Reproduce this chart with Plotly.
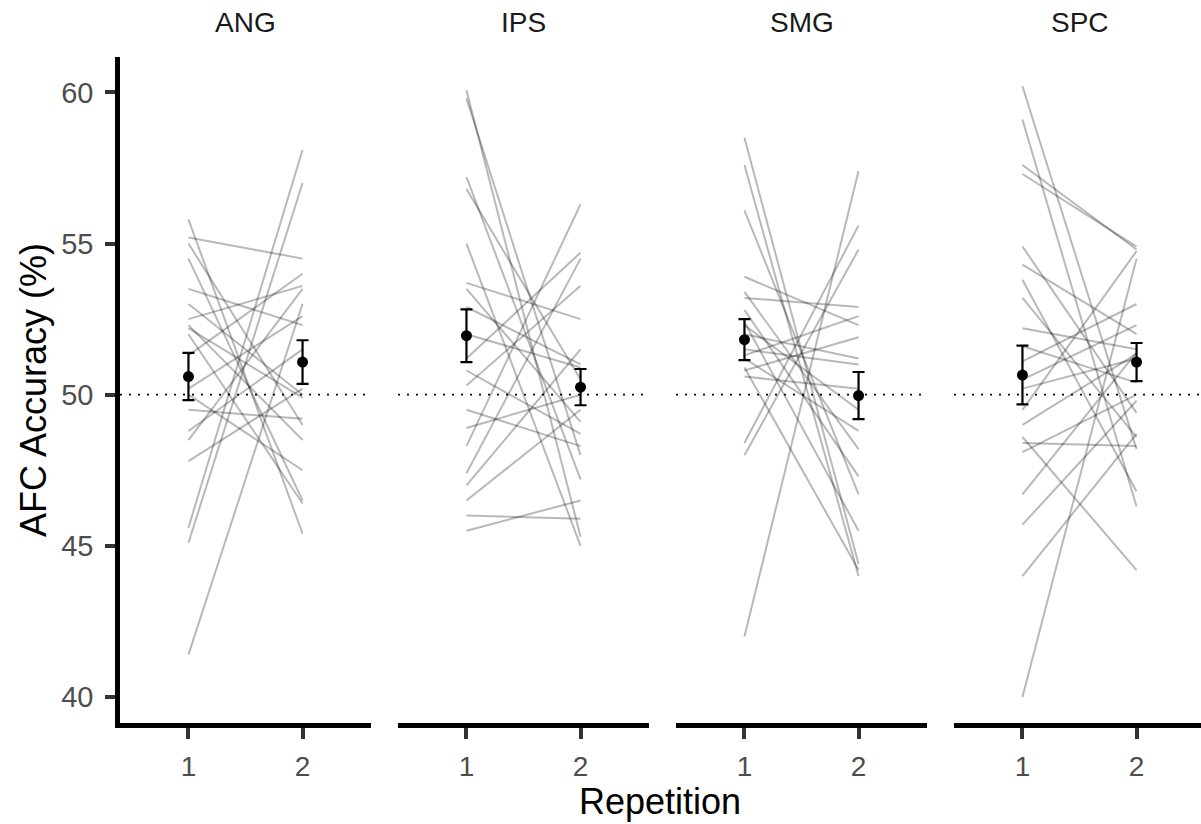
import plotly.graph_objects as go

regions = ["ANG", "IPS", "SMG", "SPC"]
reps = [1, 2]

ang_rep1 = [55.8, 55.2, 55.0, 54.5, 53.5, 53.0, 52.5, 52.3, 52.2, 51.3, 50.2, 50.0, 48.8, 48.5, 47.8, 45.6, 45.1, 41.4, 49.5, 52.0]
ang_rep2 = [45.4, 54.5, 49.0, 46.5, 52.3, 50.0, 53.6, 48.5, 49.9, 54.0, 52.6, 47.5, 51.5, 53.5, 50.2, 58.1, 57.0, 53.0, 49.2, 46.4]

ips_rep1 = [60.07, 59.8, 57.2, 56.8, 55.0, 53.7, 53.5, 52.9, 51.2, 50.8, 50.3, 48.9, 48.3, 47.4, 47.0, 46.5, 46.0, 45.5, 52.0, 49.5]
ips_rep2 = [45.3, 48.0, 47.2, 50.5, 45.0, 52.5, 49.1, 51.0, 54.7, 48.7, 53.6, 50.0, 56.3, 54.5, 51.5, 49.5, 45.9, 46.5, 50.9, 48.3]

smg_rep1 = [58.5, 57.6, 56.1, 53.9, 53.4, 53.2, 52.4, 52.0, 51.3, 51.2, 50.8, 48.4, 48.0, 42.0, 52.8, 50.9, 51.5, 52.3, 50.6]
smg_rep2 = [44.4, 44.0, 46.7, 52.3, 48.2, 52.9, 45.5, 51.2, 52.6, 48.8, 51.9, 55.6, 54.8, 57.4, 47.3, 44.2, 51.0, 49.5, 50.2]

spc_rep1 = [60.2, 59.1, 57.6, 57.3, 54.9, 54.3, 53.8, 53.2, 52.2, 51.6, 51.1, 50.5, 50.2, 49.5, 49.0, 48.4, 48.1, 46.7, 45.7, 44.0, 40.0, 48.6]
spc_rep2 = [48.2, 46.3, 54.8, 54.9, 49.4, 52.0, 46.8, 48.6, 51.5, 50.4, 53.0, 52.3, 51.2, 54.75, 51.35, 48.3, 50.0, 51.4, 49.8, 48.7, 54.5, 44.2]

mean_rep1 = [50.6, 51.95, 51.82, 50.65]
mean_rep2 = [51.08, 50.25, 49.97, 51.08]
se_rep1 = [0.78, 0.87, 0.68, 0.97]
se_rep2 = [0.72, 0.6, 0.78, 0.63]

y_ticks = [40, 45, 50, 55, 60]

subject_data = [(ang_rep1, ang_rep2), (ips_rep1, ips_rep2), (smg_rep1, smg_rep2), (spc_rep1, spc_rep2)]

W, H = 1201, 824
ml, mr, mt, mb = 120, 0, 57, 101
pw = W - ml - mr
panel_w = 251
gap = 27
xr = [0.4, 2.6]
px_per_unit = panel_w / (xr[1] - xr[0])

domains, ranges = [], []
for i in range(4):
    a_px = i * (panel_w + gap)
    b_px = a_px + panel_w
    if b_px > pw:
        ranges.append([xr[0], xr[0] + (pw - a_px) / px_per_unit])
        b_px = pw
    else:
        ranges.append(xr)
    domains.append([a_px / pw, b_px / pw])

fig = go.Figure()
yrange = [39.14, 61.17]
font_fam = "Liberation Sans, Arial, Helvetica, sans-serif"

for i, (r1, r2) in enumerate(subject_data):
    xa = "x" if i == 0 else f"x{i+1}"
    ya = "y" if i == 0 else f"y{i+1}"
    for a, b in zip(r1, r2):
        fig.add_trace(go.Scatter(x=reps, y=[a, b], mode="lines", xaxis=xa, yaxis=ya,
                                 line=dict(color="rgba(0,0,0,0.28)", width=2), hoverinfo="skip",
                                 showlegend=False))
    fig.add_trace(go.Scatter(x=[0.4, 2.6], y=[50, 50], mode="lines", xaxis=xa, yaxis=ya,
                             line=dict(color="black", width=1.8, dash="2px,7px"), showlegend=False,
                             hoverinfo="skip"))
    fig.add_trace(go.Scatter(x=reps, y=[mean_rep1[i], mean_rep2[i]], mode="markers",
                             xaxis=xa, yaxis=ya,
                             marker=dict(color="black", size=11),
                             error_y=dict(type="data", array=[se_rep1[i], se_rep2[i]],
                                          color="black", thickness=2.2, width=6),
                             showlegend=False))

layout = dict(
    width=W, height=H, plot_bgcolor="white", paper_bgcolor="white",
    margin=dict(l=ml, r=mr, t=mt, b=mb),
    font=dict(family=font_fam, color="black"),
    showlegend=False,
)
for i in range(4):
    xk = "xaxis" if i == 0 else f"xaxis{i+1}"
    yk = "yaxis" if i == 0 else f"yaxis{i+1}"
    ya = "y" if i == 0 else f"y{i+1}"
    xa = "x" if i == 0 else f"x{i+1}"
    layout[xk] = dict(domain=domains[i], range=ranges[i], anchor=ya,
                      tickvals=reps, ticktext=[str(r) for r in reps],
                      showgrid=False, zeroline=False, showline=True, linecolor="black",
                      linewidth=4.5, ticks="outside", ticklen=11, tickwidth=4, tickcolor="#333333",
                      ticklabelstandoff=4,
                      tickfont=dict(size=28, color="#4d4d4d", family=font_fam))
    layout[yk] = dict(domain=[0, 1], range=yrange, anchor=xa,
                      tickvals=y_ticks, ticktext=[str(t) for t in y_ticks],
                      showgrid=False, zeroline=False,
                      showline=(i == 0), linecolor="black", linewidth=4.5,
                      ticks="outside" if i == 0 else "", ticklen=10, tickwidth=4, tickcolor="#333333",
                      showticklabels=(i == 0), ticklabelstandoff=6,
                      tickfont=dict(size=29, color="#4d4d4d", family=font_fam))

annotations = []
for i, r in enumerate(regions):
    cx = (i * (panel_w + gap) + panel_w / 2) / pw
    annotations.append(dict(text=r, x=cx, xref="paper", y=1, yref="paper", yshift=35,
                            showarrow=False, font=dict(size=28, color="#1a1a1a", family=font_fam),
                            xanchor="center", yanchor="middle"))
annotations.append(dict(text="Repetition", x=(660 - ml) / pw, xref="paper", y=0, yref="paper",
                        yshift=-78, showarrow=False, xanchor="center", yanchor="middle",
                        font=dict(size=36, color="black", family=font_fam)))
annotations.append(dict(text="AFC Accuracy (%)", x=0, xref="paper", xshift=-87, y=0.5, yref="paper",
                        textangle=-90, showarrow=False, xanchor="center", yanchor="middle",
                        font=dict(size=36, color="black", family=font_fam)))
layout["annotations"] = annotations

fig.update_layout(**layout)
fig.write_html("out.html")
